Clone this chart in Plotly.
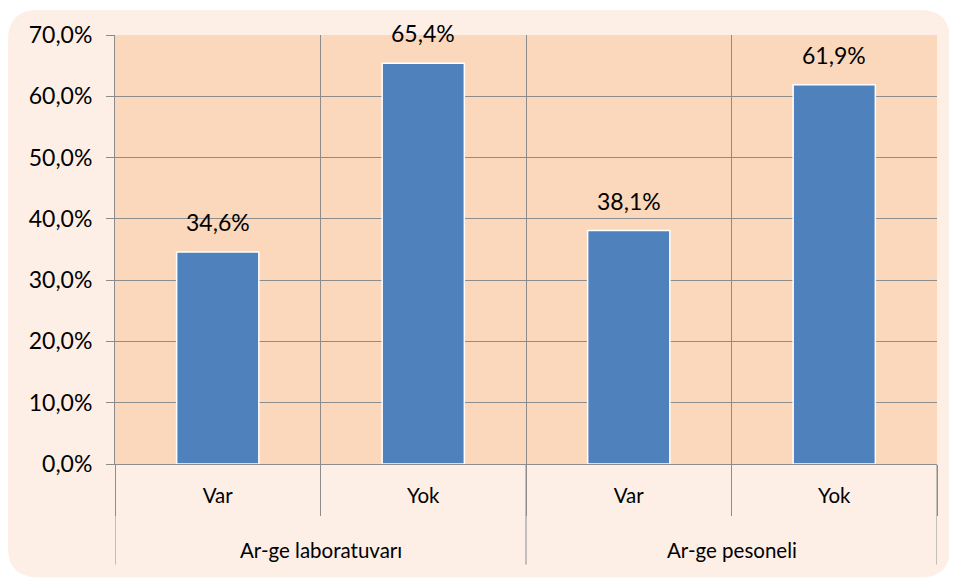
import plotly.graph_objects as go

groups = ["Ar-ge laboratuvarı", "Ar-ge pesoneli"]
answers = ["Var", "Yok", "Var", "Yok"]
values = [34.6, 65.4, 38.1, 61.9]
y_ticks = [0, 10, 20, 30, 40, 50, 60, 70]
y_tick_labels = ["0,0%", "10,0%", "20,0%", "30,0%", "40,0%", "50,0%", "60,0%", "70,0%"]

# page has 8px body margin -> figure sits at (8, 8)
OFF = 8
W, H = 957 - OFF, 581 - OFF
ml, mr, mt, mb = 115 - OFF, 20, 33 - OFF, 117
pw, ph = W - ml - mr, H - mt - mb

FONT = "Lato"
FS_NUM = 23
FS_CAT = 20.5
GRID = "#8c8c8c"

xpos = list(range(len(values)))

fig = go.Figure(go.Bar(
    x=xpos,
    y=values,
    width=0.4,
    marker=dict(color="#4F81BD", line=dict(color="white", width=1.5)),
    hoverinfo="skip",
))

annotations = []
for xi, v in zip(xpos, values):
    annotations.append(dict(
        x=xi, y=v, xref="x", yref="y", text=f"{v:.1f}%".replace(".", ","),
        showarrow=False, yanchor="bottom", yshift=14,
        font=dict(family=FONT, size=FS_NUM, color="black"),
    ))
for gi, g in enumerate(groups):
    annotations.append(dict(
        x=2 * gi + 0.5, y=0, xref="x", yref="paper", text=g,
        showarrow=False, yanchor="middle", yshift=-86,
        font=dict(family=FONT, size=FS_CAT, color="black"),
    ))

# rounded chart background (figure pixel coords -> paper)
def px2x(p):
    return (p - ml) / pw
def px2y(p):
    return (H - mb - p) / ph

x0, x1, y0, y1, r = 0, 942, 0, 570, 30
path = (f"M {px2x(x0+r)},{px2y(y0)} L {px2x(x1-r)},{px2y(y0)} "
        f"Q {px2x(x1)},{px2y(y0)} {px2x(x1)},{px2y(y0+r)} L {px2x(x1)},{px2y(y1-r)} "
        f"Q {px2x(x1)},{px2y(y1)} {px2x(x1-r)},{px2y(y1)} L {px2x(x0+r)},{px2y(y1)} "
        f"Q {px2x(x0)},{px2y(y1)} {px2x(x0)},{px2y(y1-r)} L {px2x(x0)},{px2y(y0+r)} "
        f"Q {px2x(x0)},{px2y(y0)} {px2x(x0+r)},{px2y(y0)} Z")

shapes = [
    dict(type="path", path=path, xref="paper", yref="paper",
         fillcolor="#FDEFE6", line=dict(width=0), layer="below"),
    dict(type="rect", x0=0, x1=1, y0=0, y1=1, xref="paper", yref="paper",
         fillcolor="#FBD8BB", line=dict(width=0), layer="below"),
]
# long group dividers below the axis
for xb in [-0.5, 1.5, 3.5]:
    shapes.append(dict(type="line", x0=xb, x1=xb, xref="x", y0=0,
                       y1=-(565 - 464) / ph, yref="paper",
                       line=dict(color=GRID, width=1)))

fig.update_layout(
    width=W, height=H,
    margin=dict(l=ml, r=mr, t=mt, b=mb),
    paper_bgcolor="white",
    plot_bgcolor="#FBD8BB",
    showlegend=False,
    font=dict(family=FONT, size=FS_CAT, color="black"),
    shapes=shapes,
    annotations=annotations,
)
fig.update_yaxes(
    range=[0, 70], tickmode="array", tickvals=y_ticks, ticktext=y_tick_labels,
    showgrid=True, gridcolor=GRID, gridwidth=1,
    showline=True, linecolor=GRID, linewidth=1,
    ticks="outside", ticklen=8, tickcolor=GRID,
    zeroline=False, ticklabelstandoff=9,
    tickfont=dict(family=FONT, size=FS_NUM),
)
fig.update_xaxes(
    range=[-0.5, 3.5], tickmode="array", tickvals=xpos, ticktext=answers,
    showgrid=False, ticks="", zeroline=False,
    showline=True, linecolor=GRID, linewidth=1,
    ticklabelstandoff=13,
    minor=dict(tickmode="array", tickvals=[-0.5, 0.5, 1.5, 2.5, 3.5],
               showgrid=True, gridcolor=GRID, gridwidth=1,
               ticks="outside", ticklen=51, tickcolor=GRID),
    tickfont=dict(family=FONT, size=FS_CAT),
)

fig.write_html("out.html")
